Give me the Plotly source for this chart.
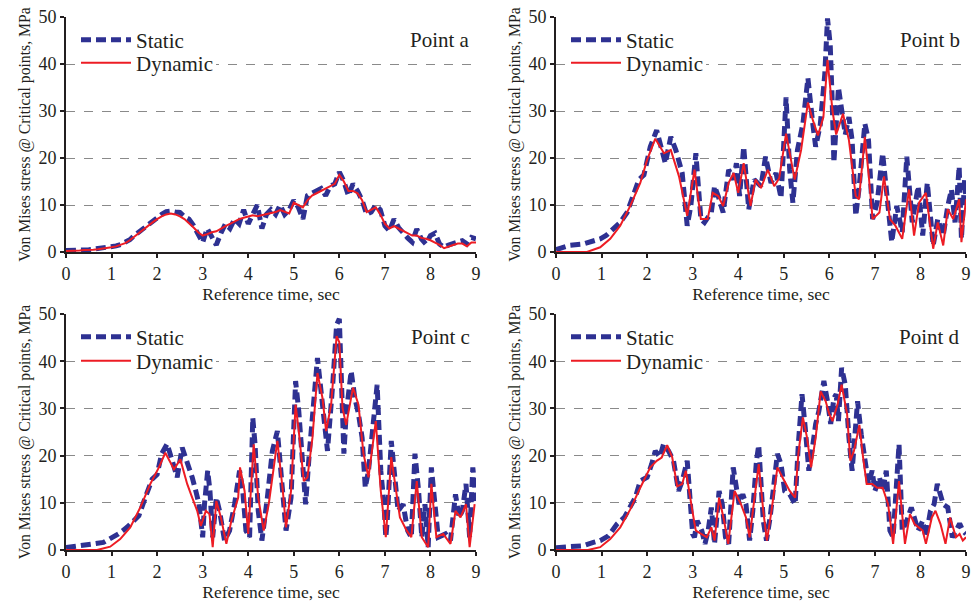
import numpy as np
import plotly.graph_objects as go

# ---------------- data ----------------
# Point a (uniform 0.1 s sampling)
ta = [round(0.1 * i, 2) for i in range(91)]
a_static = [0.3,0.3,0.4,0.4,0.5,0.5,0.6,0.7,0.8,0.9,
            1.0,1.3,1.6,2.0,2.6,3.5,4.3,4.8,5.8,6.5,
            7.2,8.0,8.6,8.7,8.5,8.4,7.5,7.0,5.6,3.5,
            2.0,5.0,3.0,1.5,4.0,6.0,5.0,7.0,6.0,9.0,
            6.0,8.0,10.0,5.0,8.0,9.0,8.0,10.0,8.0,9.0,
            11.0,9.5,7.0,12.0,12.5,13.0,13.5,12.0,14.0,14.5,
            17.0,15.0,12.0,14.5,13.0,11.0,8.0,8.5,10.0,9.0,
            5.6,4.5,7.0,5.2,4.0,3.0,2.1,4.9,2.8,1.7,
            3.5,4.0,1.7,1.0,1.5,1.8,2.2,2.4,1.7,3.1,
            2.8]
a_dynamic = [0.2,0.2,0.3,0.3,0.4,0.4,0.5,0.6,0.7,0.8,
             1.0,1.2,1.5,1.9,2.5,3.3,4.1,4.8,5.6,6.3,
             7.0,7.6,8.0,8.2,8.0,7.6,7.0,6.2,5.2,4.2,
             3.5,3.8,4.2,4.4,5.0,5.5,6.0,6.5,7.0,7.3,
             7.5,7.8,7.6,7.8,8.0,8.2,8.5,8.9,8.6,8.2,
             10.5,10.0,9.5,11.0,12.0,12.5,13.0,13.5,14.0,14.5,
             16.4,15.0,13.0,13.0,12.5,11.0,8.5,9.0,9.5,8.0,
             6.0,5.0,5.5,5.0,4.5,4.0,3.5,3.5,3.0,2.8,
             2.5,2.0,1.5,0.8,1.2,1.5,1.8,1.8,1.2,2.0,
             2.0]

# Point b
tb_static = [0,0.3,0.6,0.82,0.97,1.1,1.26,1.41,1.56,1.7,1.82,1.93,2.07,2.21,2.3,2.4,2.52,2.63,2.77,2.88,2.96,
             3.07,3.18,3.26,3.41,3.48,3.56,3.67,3.79,3.9,3.96,4.03,4.12,4.23,4.35,4.5,4.6,4.72,4.83,4.94,
             5.05,5.13,5.2,5.3,5.42,5.53,5.64,5.7,5.8,5.9,5.96,6.02,6.06,6.1,6.2,6.27,6.35,6.43,6.5,6.58,
             6.65,6.78,6.86,6.95,7.05,7.17,7.25,7.37,7.48,7.6,7.7,7.82,7.95,8.05,8.15,8.28,8.38,8.5,8.6,
             8.68,8.76,8.85,8.9,8.97,9.0]
b_static = [0.5,1.4,1.7,2.4,2.8,3.5,4.9,6.3,8.4,11.9,15.4,16.4,22.4,25.9,22.4,18.9,24.5,21.7,16.8,5.6,9.8,
            21.0,7.0,6.3,8.4,14.0,11.9,8.4,17.5,15.4,18.9,11.9,22.4,9.1,15.4,14.0,20.3,14.7,16.8,11.5,
            32.9,17.5,10.5,21.7,27.3,37.0,27.0,22.4,27.0,37.8,49.7,44.0,33.0,19.0,35.0,30.8,25.0,28.7,23.8,7.7,
            13.3,27.3,23.8,7.0,10.5,21.0,12.6,2.1,9.8,4.2,20.3,6.3,14.0,3.5,14.7,1.4,7.0,3.5,9.8,
            13.3,6.3,18.2,2.8,15.4,11.2]
tb_dynamic = [0,0.68,0.97,1.19,1.41,1.63,1.85,2.0,2.18,2.37,2.52,2.7,2.88,3.04,3.18,3.33,3.44,3.56,3.67,3.79,
              3.9,4.0,4.12,4.27,4.38,4.5,4.65,4.79,4.9,5.05,5.24,5.38,5.53,5.64,5.75,5.87,5.96,6.07,6.15,6.3,
              6.43,6.58,6.65,6.78,6.86,6.95,7.1,7.2,7.33,7.45,7.6,7.75,7.86,7.97,8.12,8.28,8.38,8.5,8.6,8.72,
              8.85,8.9,9.0]
b_dynamic = [0,0,1.0,2.8,5.6,9.8,14.7,19.6,24.1,21.0,21.7,16.1,7.7,17.5,7.0,7.0,12.6,11.9,9.8,14.7,
             16.8,12.6,18.9,9.8,15.4,13.6,17.5,14.0,15.7,25.2,15.4,21.7,31.8,28.0,24.8,28.7,40.9,30.0,25.0,29.4,
             23.8,11.9,11.2,24.5,16.8,7.0,8.4,16.1,7.0,5.6,2.8,13.3,3.5,10.5,12.6,0.7,6.3,1.4,9.1,7.0,
             11.2,2.1,11.2]

# Point c
tc_static = [0,0.3,0.6,0.82,0.97,1.15,1.34,1.45,1.6,1.74,1.89,2.0,2.1,2.22,2.37,2.44,2.55,2.66,2.77,2.85,2.92,3.0,
             3.04,3.11,3.16,3.22,3.3,3.37,3.48,3.59,3.7,3.81,3.88,3.95,4.03,4.1,4.15,4.22,4.3,4.42,4.53,4.64,
             4.76,4.83,4.94,5.04,5.11,5.19,5.26,5.34,5.41,5.52,5.63,5.74,5.86,5.94,6.0,6.04,6.07,6.1,6.15,6.26,
             6.34,6.42,6.5,6.57,6.64,6.76,6.83,6.91,6.98,7.02,7.05,7.14,7.2,7.29,7.4,7.5,7.58,7.66,7.74,7.81,
             7.88,7.95,8.02,8.1,8.17,8.33,8.44,8.55,8.63,8.7,8.78,8.86,8.93,9.0]
c_static = [0.5,0.8,1.3,1.6,2.3,3.4,4.8,5.8,7.3,11.1,15.0,16.0,20.4,22.5,18.2,15.4,21.7,18.9,15.4,12.5,9.7,2.7,
            9.7,16.8,12.5,2.7,11.1,8.3,2.0,4.1,9.7,16.8,12.5,4.1,2.7,28.0,22.4,8.3,2.0,11.1,21.0,25.2,
            12.5,4.1,11.1,35.8,29.4,16.8,9.7,20.4,28.8,40.7,30.8,21.0,35.8,47.7,49.0,37.9,25.2,20.4,28.8,37.9,
            32.2,28.8,23.8,13.2,16.8,30.1,35.0,16.8,9.7,2.7,6.0,23.1,16.8,8.3,9.7,4.1,2.7,20.4,12.5,2.7,
            9.7,0.6,17.5,9.7,2.7,3.4,2.0,11.8,6.9,8.3,14.0,2.7,17.5,10.4]
tc_dynamic = [0,0.68,0.97,1.19,1.41,1.63,1.85,2.04,2.18,2.37,2.51,2.66,2.77,2.88,2.96,3.07,3.15,3.22,3.3,3.4,
              3.52,3.63,3.78,3.82,3.92,4.0,4.12,4.22,4.34,4.45,4.64,4.76,4.83,4.94,5.04,5.11,5.22,5.3,5.41,5.52,
              5.63,5.71,5.82,5.94,6.0,6.07,6.15,6.2,6.3,6.42,6.53,6.64,6.76,6.8,6.91,7.02,7.14,7.2,7.33,7.48,
              7.58,7.7,7.81,7.95,8.02,8.13,8.28,8.44,8.55,8.66,8.78,8.86,8.97]
c_dynamic = [0,0,0.7,2.3,4.8,9.0,14.0,17.5,20.6,17.1,19.2,14.0,11.1,8.3,5.1,8.3,7.6,0.6,10.4,6.9,
             1.3,6.2,11.1,17.5,12.5,3.4,22.4,11.1,4.1,9.7,23.1,12.5,4.8,12.5,30.8,25.2,14.6,15.4,23.8,37.5,
             32.2,25.2,30.8,45.3,44.0,30.1,26.5,29.4,34.4,30.8,20.4,15.4,25.2,27.3,12.5,2.7,19.7,15.4,6.9,4.1,
             2.7,14.6,2.7,0.6,14.0,2.7,3.4,1.3,8.3,6.9,9.7,0.6,9.7]

# Point d
td_static = [0,0.3,0.6,0.82,0.97,1.15,1.34,1.5,1.63,1.74,1.85,2.0,2.1,2.18,2.28,2.36,2.47,2.58,2.69,2.77,2.88,2.96,3.0,
             3.04,3.1,3.2,3.27,3.34,3.41,3.48,3.58,3.65,3.72,3.79,3.89,3.96,4.02,4.1,4.17,4.25,4.32,4.4,4.45,
             4.55,4.62,4.7,4.86,4.94,5.02,5.13,5.25,5.32,5.4,5.47,5.55,5.62,5.7,5.77,5.88,5.96,6.03,6.1,
             6.15,6.2,6.27,6.35,6.39,6.43,6.5,6.58,6.62,6.7,6.78,6.86,6.94,7.0,7.1,7.17,7.25,7.33,7.4,
             7.47,7.53,7.6,7.7,7.8,7.87,7.95,8.05,8.12,8.22,8.3,8.37,8.44,8.5,8.6,8.7,8.78,8.86,8.93,9.0]
d_static = [0.5,0.6,0.9,1.6,2.0,3.0,5.5,6.9,9.0,11.1,14.6,15.4,18.2,21.0,19.7,22.4,21.0,18.9,12.5,14.6,18.9,10.4,3.4,
            2.7,6.2,4.1,1.3,4.1,9.0,1.3,12.5,9.7,2.7,1.3,17.5,13.2,9.7,11.8,9.7,2.0,8.3,18.9,22.2,
            6.2,2.0,6.9,20.4,18.2,12.5,11.8,9.7,22.5,33.0,26.0,16.8,21.0,26.7,29.4,35.8,31.5,26.7,32.2,
            33.0,27.3,38.6,35.0,28.8,23.8,16.8,28.1,31.5,24.5,18.2,14.0,16.8,12.5,15.4,12.5,16.8,4.1,2.7,
            15.4,22.4,4.1,6.2,9.0,6.9,4.1,6.2,2.7,8.3,9.7,14.0,11.1,9.7,9.0,2.7,4.1,5.6,4.1,3.4]
td_dynamic = [0,0.7,0.97,1.19,1.41,1.63,1.85,2.07,2.21,2.32,2.44,2.55,2.66,2.77,2.85,2.96,3.03,
              3.07,3.2,3.31,3.41,3.48,3.58,3.69,3.78,3.92,4.06,4.17,4.25,4.36,4.45,4.55,4.63,4.73,4.86,4.97,
              5.13,5.25,5.32,5.42,5.51,5.6,5.7,5.81,5.92,6.0,6.07,6.18,6.27,6.39,6.46,6.54,6.66,6.74,6.82,
              6.94,7.05,7.17,7.29,7.4,7.53,7.66,7.77,7.87,7.95,8.05,8.12,8.25,8.33,8.44,8.55,8.65,8.78,8.86,
              8.93,9.0]
d_dynamic = [0,0,0.6,2.3,4.8,8.6,13.2,17.5,18.9,19.6,22.2,19.7,13.5,14.0,16.8,9.7,6.2,
             4.1,3.4,2.7,4.8,2.0,11.1,6.2,1.3,12.5,9.7,6.9,2.7,11.8,18.2,8.3,2.0,8.3,17.5,15.4,
             12.5,11.1,20.4,28.1,23.8,17.5,23.8,33.6,31.5,28.8,27.3,30.8,35.0,28.8,18.9,21.0,26.5,19.7,14.0,
             14.0,13.2,13.2,9.7,1.3,14.6,1.3,7.6,5.5,4.8,4.1,1.3,6.9,8.3,5.5,1.3,6.9,2.7,3.4,
             2.0,2.7]

panels = [
    ("Point a", ta, a_static, ta, a_dynamic),
    ("Point b", tb_static, b_static, tb_dynamic, b_dynamic),
    ("Point c", tc_static, c_static, tc_dynamic, c_dynamic),
    ("Point d", td_static, d_static, td_dynamic, d_dynamic),
]

series_names = ["Static", "Dynamic"]
x_ticks = list(range(0, 10))
y_ticks = [0, 10, 20, 30, 40, 50]

# ---------------- styling / layout ----------------
W, H = 972, 604
FONT = "Liberation Serif"
STATIC_COLOR = "#2E3192"
DYN_COLOR = "#ED1C24"
TXT = "#231f20"

xdom = [[66 / W, 476 / W], [556 / W, 966 / W]]
ydom = [[(H - 252) / H, (H - 17) / H], [(H - 550) / H, (H - 314) / H]]
legend_rows_px = [[40, 63], [337, 361]]   # row centres of Static / Dynamic

fig = go.Figure()
layout = dict(
    width=W, height=H, margin=dict(l=0, r=0, t=0, b=0, autoexpand=False),
    paper_bgcolor="white", plot_bgcolor="white", showlegend=True,
    font=dict(family=FONT, size=18, color=TXT),
    annotations=[], shapes=[],
)

styles = [dict(color=STATIC_COLOR, width=5, dash="10px,5px"),
          dict(color=DYN_COLOR, width=2)]

for i, (name, ts, vs, tdn, vd) in enumerate(panels):
    row, col = divmod(i, 2)
    n = "" if i == 0 else str(i + 1)
    xa, ya = "x" + n, "y" + n
    x_left_px = xdom[col][0] * W
    # white box behind legend (hides gridline like the original legend frame)
    layout["shapes"].append(dict(
        type="rect", xref="paper", yref="paper", layer="above",
        x0=(x_left_px + 10) / W, x1=(x_left_px + 150) / W,
        y0=1 - (legend_rows_px[row][1] + 12) / H, y1=1 - (legend_rows_px[row][0] - 12) / H,
        fillcolor="white", line=dict(width=0),
    ))
    for k, (tt, vv) in enumerate([(ts, vs), (tdn, vd)]):
        li = 2 * i + k + 1
        lg = "legend" if li == 1 else "legend" + str(li)
        fig.add_trace(go.Scatter(x=tt, y=vv, mode="lines", name=series_names[k],
                                 line=styles[k], xaxis=xa, yaxis=ya, legend=lg,
                                 showlegend=True))
        layout[lg] = dict(
            x=xdom[col][0] + 10 / W, y=1 - legend_rows_px[row][k] / H,
            xanchor="left", yanchor="middle", visible=True,
            bgcolor="rgba(0,0,0,0)", borderwidth=0, font=dict(size=21), itemwidth=50,
        )
    layout["xaxis" + n] = dict(
        domain=xdom[col], anchor=ya, range=[0, 9], tickvals=x_ticks,
        ticks="outside", ticklen=4, tickwidth=1.5, tickcolor=TXT,
        showline=True, linecolor=TXT, linewidth=2, showgrid=False, zeroline=False,
        tickfont=dict(size=18), automargin=False,
        title=dict(text="Reference time, sec", font=dict(size=17.5), standoff=0),
    )
    layout["yaxis" + n] = dict(
        domain=ydom[row], anchor=xa, range=[0, 50], tickvals=y_ticks,
        ticks="outside", ticklen=4, tickwidth=1.5, tickcolor=TXT,
        showline=True, linecolor=TXT, linewidth=2,
        showgrid=True, gridcolor="#8a8a8a", gridwidth=1, griddash="dash", zeroline=False,
        tickfont=dict(size=18), automargin=False,
        title=dict(text="Von Mises stress @ Critical points, MPa", font=dict(size=15.7), standoff=4),
    )
    layout["annotations"].append(dict(
        text=name, x=xdom[col][1] - 4 / W, y=ydom[row][1] - 23 / H,
        xref="paper", yref="paper", xanchor="right", yanchor="middle",
        showarrow=False, font=dict(size=21),
    ))

fig.update_layout(**layout)
fig.write_html("out.html")
